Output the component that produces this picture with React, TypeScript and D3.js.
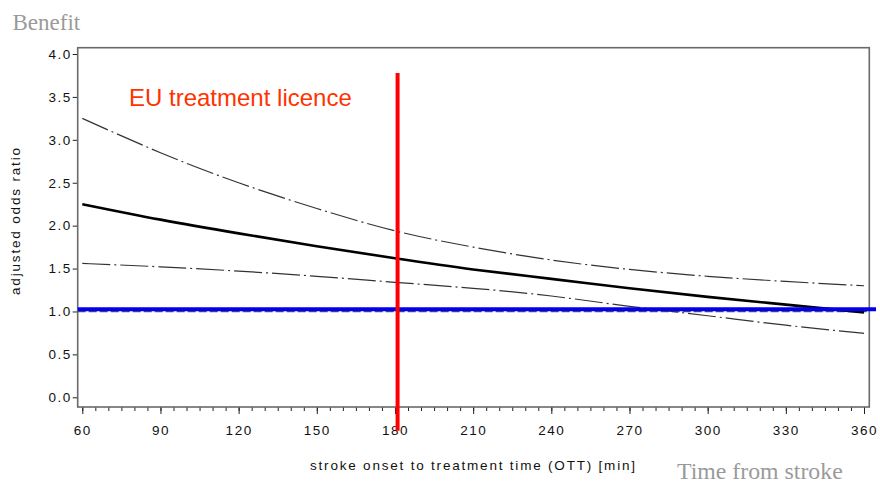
import React, { useEffect, useRef } from 'react';
import * as d3 from 'd3';

// time after stroke onset (min) and the adjusted odds ratio
const OTT_MIN = [60, 90, 120, 150, 180, 210, 240, 270, 300, 330, 360];
const ODDS_FIT = [2.25, 2.07, 1.91, 1.76, 1.62, 1.49, 1.38, 1.27, 1.17, 1.08, 0.99];
const ODDS_UPPER = [3.25, 2.85, 2.5, 2.2, 1.94, 1.75, 1.6, 1.49, 1.41, 1.35, 1.3];
const ODDS_LOWER = [1.56, 1.52, 1.47, 1.41, 1.34, 1.27, 1.18, 1.06, 0.95, 0.84, 0.745];

const X_TICKS = [60, 90, 120, 150, 180, 210, 240, 270, 300, 330, 360];
const X_MINOR = d3.range(60, 361, 5);
const Y_TICKS = [0, 0.5, 1, 1.5, 2, 2.5, 3, 3.5, 4];

const NO_EFFECT = 1.0;
const BLUE_LEVEL = 1.025;
const LICENCE_TIME = 181;
const LICENCE_SPAN = [-0.39, 3.78];

const W = 880;
const H = 483;

const App = () => {
    const svgRef = useRef<SVGSVGElement>(null);

    // frame of the plot
    const frame = { left: 77.7, right: 869.3, top: 47.7, bottom: 407 };

    const x = d3.scaleLinear().domain([60, 360]).range([82.3, 864]);
    const y = d3.scaleLinear().domain([0, 4]).range([397.3, 54]);

    useEffect(() => {
        const svg = d3.select(svgRef.current);
        svg.selectAll('*').remove();

        const sans = 'Arial, "Liberation Sans", sans-serif';
        const serif = '"Times New Roman", "Liberation Serif", serif';

        // y axis
        const yAxis = svg.append('g')
            .attr('transform', `translate(${frame.left},0)`)
            .call(d3.axisLeft(y).tickValues(Y_TICKS).tickSize(5).tickPadding(1).tickFormat(d3.format('.1f')));
        yAxis.select('.domain').remove();
        yAxis.selectAll('line').attr('stroke', '#222');
        yAxis.selectAll('text')
            .attr('font-family', sans).attr('font-size', 13.5)
            .attr('letter-spacing', 1.5).attr('fill', '#111');

        // x axis, minor then major ticks
        const xMinor = svg.append('g')
            .attr('transform', `translate(0,${frame.bottom})`)
            .call(d3.axisBottom(x).tickValues(X_MINOR).tickSize(4).tickFormat(() => ''));
        xMinor.select('.domain').remove();
        xMinor.selectAll('line').attr('stroke', '#222');

        const xAxis = svg.append('g')
            .attr('transform', `translate(0,${frame.bottom})`)
            .call(d3.axisBottom(x).tickValues(X_TICKS).tickSize(7).tickPadding(11).tickFormat(d3.format('d')));
        xAxis.select('.domain').remove();
        xAxis.selectAll('line').attr('stroke', '#222');
        xAxis.selectAll('text')
            .attr('font-family', sans).attr('font-size', 13.5)
            .attr('letter-spacing', 1.5).attr('fill', '#111');

        // frame
        svg.append('rect')
            .attr('x', frame.left).attr('y', frame.top)
            .attr('width', frame.right - frame.left)
            .attr('height', frame.bottom - frame.top)
            .attr('fill', 'none').attr('stroke', '#6a6a6a').attr('stroke-width', 1.6);

        // axis titles
        svg.append('text')
            .attr('x', 310).attr('y', 470)
            .attr('textLength', 325).attr('lengthAdjust', 'spacing')
            .attr('font-family', sans).attr('font-size', 13.5).attr('fill', '#111')
            .text('stroke onset to treatment time (OTT) [min]');

        svg.append('text')
            .attr('transform', 'translate(19.5,295) rotate(-90)')
            .attr('textLength', 147).attr('lengthAdjust', 'spacing')
            .attr('font-family', sans).attr('font-size', 13.5).attr('fill', '#111')
            .text('adjusted odds ratio');

        // reference line at OR = 1
        svg.append('line')
            .attr('x1', frame.left).attr('x2', frame.right)
            .attr('y1', y(NO_EFFECT)).attr('y2', y(NO_EFFECT))
            .attr('stroke', '#555').attr('stroke-width', 1.5)
            .attr('stroke-dasharray', '8,3');

        // curves
        const line = d3.line<number>()
            .x((d, i) => x(OTT_MIN[i]))
            .y(d => y(d))
            .curve(d3.curveNatural);

        [ODDS_UPPER, ODDS_LOWER].forEach(vals => {
            svg.append('path')
                .datum(vals)
                .attr('d', line)
                .attr('fill', 'none')
                .attr('stroke', '#333').attr('stroke-width', 1.2)
                .attr('stroke-dasharray', '28,4,2,4');
        });

        svg.append('path')
            .datum(ODDS_FIT)
            .attr('d', line)
            .attr('fill', 'none')
            .attr('stroke', '#000').attr('stroke-width', 2.6);

        // blue benefit line
        svg.append('line')
            .attr('x1', frame.left).attr('x2', 876)
            .attr('y1', y(BLUE_LEVEL)).attr('y2', y(BLUE_LEVEL))
            .attr('stroke', '#0000ee').attr('stroke-width', 4);

        // licence limit
        svg.append('line')
            .attr('x1', x(LICENCE_TIME)).attr('x2', x(LICENCE_TIME))
            .attr('y1', y(LICENCE_SPAN[1])).attr('y2', y(LICENCE_SPAN[0]))
            .attr('stroke', '#ff0000').attr('stroke-width', 4);

        svg.append('text')
            .attr('x', 129).attr('y', 106)
            .attr('font-family', sans).attr('font-size', 24).attr('fill', '#ff3300')
            .text('EU treatment licence');

        // slide labels
        svg.append('text')
            .attr('x', 12.5).attr('y', 30)
            .attr('font-family', serif).attr('font-size', 23).attr('fill', '#9a9a9a')
            .text('Benefit');

        svg.append('text')
            .attr('x', 677).attr('y', 479)
            .attr('font-family', serif).attr('font-size', 23.8).attr('fill', '#9a9a9a')
            .text('Time from stroke');
    }, []);

    return <svg ref={svgRef} width={W} height={H}
        style={{ position: 'absolute', left: 0, top: 0, background: '#fff' }} />;
};

export default App;
